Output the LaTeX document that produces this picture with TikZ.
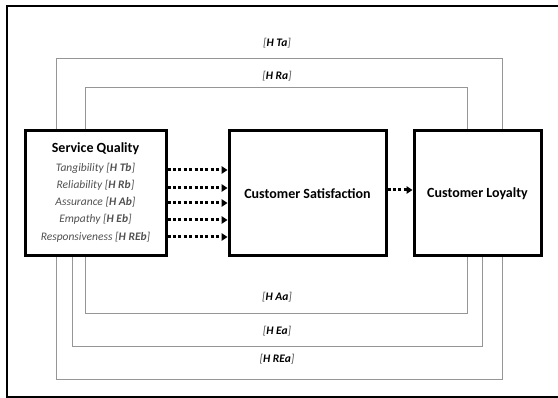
\documentclass[tikz,border=0pt]{standalone}
\usepackage{fontspec}
\setmainfont{Carlito}
\usetikzlibrary{arrows.meta,calc}
\definecolor{linegray}{RGB}{150,150,150}
\definecolor{itemgray}{RGB}{80,80,80}
\newcommand\hlab[1]{{\color{itemgray}[}\textbf{#1}{\color{itemgray}]}}
\begin{document}
\begin{tikzpicture}[x=1pt,y=-1pt,
  bigbox/.style={draw=black,line width=3pt,minimum height=125pt,inner sep=0pt,
    font=\fontsize{14}{16}\selectfont\bfseries},
  itemtxt/.style={inner sep=0pt,font=\fontsize{11.5}{13}\selectfont\itshape,text=itemgray},
  lbl/.style={inner sep=0pt,font=\fontsize{11.5}{13}\selectfont\itshape},
  hline/.style={draw=linegray,line width=1.2pt},
  dotarrow/.style={line width=3pt,dash pattern=on 3pt off 2.4pt,
    -{Triangle[length=6pt,width=7.5pt]}}]
\useasboundingbox (0,0) rectangle (558,398);
% outer frame (cut off on the right)
\draw[line width=2pt] (560,6) -- (7,6) -- (7,397) -- (560,397);

% main boxes
\node[bigbox,minimum width=141pt] (sq) at (95.5,193.5) {};
\node[bigbox,minimum width=157pt] (cs) at (307.5,193.5) {Customer Satisfaction};
\node[bigbox,minimum width=127pt] (cl) at (477.5,193.5) {Customer Loyalty};

% service quality texts
\node[inner sep=0pt,font=\fontsize{14}{16}\selectfont\bfseries] (sqt) at (95.5,149) {Service Quality};
\node[itemtxt] (t1) at (95.5,168) {Tangibility \hlab{H Tb}};
\node[itemtxt] (t2) at (95.5,185) {Reliability \hlab{H Rb}};
\node[itemtxt] (t3) at (95.5,202) {Assurance \hlab{H Ab}};
\node[itemtxt] (t4) at (95.5,219.5) {Empathy \hlab{H Eb}};
\node[itemtxt] (t5) at (95.5,237) {Responsiveness \hlab{H REb}};

% dotted arrows
\foreach \t/\yy in {t1/170,t2/188,t3/203,t4/220,t5/237}{
  \draw[dotarrow] (sq.east |- 0,\yy) -- (cs.west |- 0,\yy);
}
\draw[dotarrow] (cs.east |- 0,190) -- (cl.west |- 0,190);

% hypothesis lines above
\draw[hline] ([xshift=33pt]sq.north west) -- ++(0,-71) -| ([xshift=-40pt]cl.north east);
\draw[hline] ([xshift=62pt]sq.north west) -- ++(0,-42) -| ([xshift=-75pt]cl.north east);
% hypothesis lines below
\draw[hline] ([xshift=62pt]sq.south west) -- ++(0,56) -| ([xshift=-75pt]cl.south east);
\draw[hline] ([xshift=49pt]sq.south west) -- ++(0,89) -| ([xshift=-60pt]cl.south east);
\draw[hline] ([xshift=33pt]sq.south west) -- ++(0,122) -| ([xshift=-40pt]cl.south east);

% labels
\node[lbl] (lta) at (277,43) {\hlab{H Ta}};
\node[lbl] (lra) at (277,76) {\hlab{H Ra}};
\node[lbl] (laa) at (277,297) {\hlab{H Aa}};
\node[lbl] (lea) at (277,331) {\hlab{H Ea}};
\node[lbl] (lrea) at (277,359) {\hlab{H REa}};
\end{tikzpicture}
\end{document}
